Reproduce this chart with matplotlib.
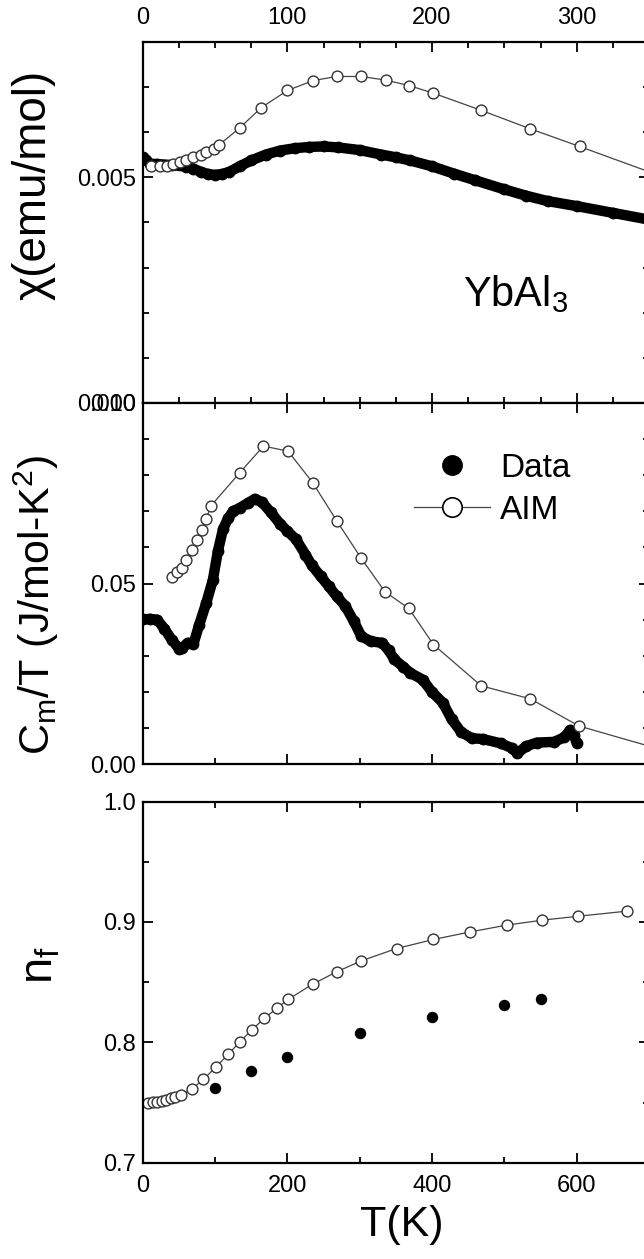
import matplotlib
matplotlib.use('Agg')
import matplotlib.pyplot as plt
from matplotlib.ticker import MultipleLocator, FormatStrFormatter
from matplotlib.lines import Line2D

plt.rcParams['font.family'] = ['Liberation Sans', 'DejaVu Sans']
plt.rcParams['mathtext.default'] = 'regular'

# top panel: susceptibility (x in K, y in 1e-3 emu/mol)
chi_T = [0, 2, 5, 10, 20, 30, 35, 40, 45, 50, 55, 60, 67, 75, 85, 95, 105, 115, 125, 135,
         150, 165, 175, 185, 200, 215, 230, 250, 265, 280, 300, 325, 350]
chi_dat = [5.45, 5.38, 5.30, 5.29, 5.27, 5.23, 5.19, 5.12, 5.07, 5.05, 5.07, 5.12, 5.24, 5.37,
           5.50, 5.59, 5.64, 5.67, 5.68, 5.66, 5.60, 5.50, 5.44, 5.37, 5.24, 5.08, 4.93, 4.73,
           4.59, 4.47, 4.36, 4.21, 4.06]
aim_chi_T = [6, 12, 16.5, 21, 26, 30, 35, 40, 44, 49, 53, 67, 82, 100, 118, 134, 151, 168,
             184, 201, 234, 268, 302, 368]
aim_chi = [5.24, 5.24, 5.25, 5.30, 5.33, 5.37, 5.44, 5.50, 5.55, 5.63, 5.72, 6.09, 6.54, 6.92,
           7.14, 7.23, 7.23, 7.15, 7.03, 6.86, 6.48, 6.07, 5.68, 4.91]

# middle panel: Cm/T
cm_T = [0, 10, 20, 30, 40, 50, 55, 62, 70, 78, 88, 97, 104, 111, 118, 125, 135, 145, 155, 165,
        177, 190, 200, 212, 225, 234, 246, 257, 268, 280, 292, 302, 315, 331, 340, 348, 360,
        370, 387, 400, 415, 427, 440, 455, 470, 495, 510, 518, 530, 545, 569, 583, 591, 596, 600]
cm_dat = [0.0401, 0.0402, 0.0400, 0.0375, 0.0345, 0.0320, 0.0322, 0.0336, 0.0332, 0.0385,
          0.0447, 0.0510, 0.0590, 0.0650, 0.0680, 0.0700, 0.0710, 0.0722, 0.0734, 0.0725,
          0.0697, 0.0665, 0.0645, 0.0622, 0.0580, 0.0550, 0.0520, 0.0493, 0.0465, 0.0438,
          0.0395, 0.0355, 0.0340, 0.0336, 0.0315, 0.0290, 0.0270, 0.0253, 0.0234, 0.0200,
          0.0170, 0.0125, 0.0090, 0.0072, 0.0070, 0.0058, 0.0045, 0.0030, 0.0050, 0.0060,
          0.0062, 0.0075, 0.0095, 0.0080, 0.0060]
aim_cm_T = [41, 48, 54, 60, 68, 75, 82, 88, 94, 134, 167, 201, 235, 268, 302, 335, 368, 402,
            468, 536, 603, 737]
aim_cm = [0.0517, 0.0532, 0.0544, 0.0566, 0.0593, 0.0621, 0.0649, 0.0679, 0.0714, 0.0806,
          0.0880, 0.0866, 0.0779, 0.0674, 0.0570, 0.0477, 0.0431, 0.0331, 0.0217, 0.0181,
          0.0106, 0.0029]

# bottom panel: nf
nf_dat_T = [100, 150, 200, 300, 400, 500, 550]
nf_dat = [0.7617, 0.7761, 0.788, 0.8074, 0.8212, 0.8309, 0.8356]
aim_nf_T = [8, 14.7, 20, 26, 32, 38.7, 44.7, 52.5, 67.7, 83.8, 101, 118, 134.5, 151, 168, 185,
            201, 235, 268, 302, 351, 402, 453, 503, 552, 602, 669]
aim_nf = [0.7493, 0.7501, 0.7506, 0.7515, 0.7523, 0.7534, 0.7548, 0.7562, 0.7609, 0.7692,
          0.7792, 0.790, 0.8004, 0.8104, 0.8198, 0.8281, 0.8356, 0.8483, 0.8585, 0.8676,
          0.8779, 0.8854, 0.8917, 0.8973, 0.9014, 0.9047, 0.9089]

W, H = 644, 1259
fig = plt.figure(figsize=(W / 100, H / 100), dpi=100)

def box(top, bottom, left=142.7, right=649):
    return [left / W, 1 - bottom / H, (right - left) / W, (bottom - top) / H]

ax1 = fig.add_axes(box(41.7, 403))
ax2 = fig.add_axes(box(402.7, 764.3))
ax3 = fig.add_axes(box(801.5, 1162.7))

def style(ax):
    ax.tick_params(which='both', direction='in', top=True, right=True, width=1.3,
                   labelsize=17, pad=5)
    ax.tick_params(which='major', length=7.5)
    ax.tick_params(which='minor', length=4)
    for s in ax.spines.values():
        s.set_linewidth(1.6)

aim_style = dict(color='#444444', lw=0.9, marker='o', ms=7.8, mfc='white', mec='#333333', mew=1.0)
dat_style = dict(color='black', lw=7.5, marker='o', ms=7.5, mfc='black', mec='black',
                 solid_capstyle='round', solid_joinstyle='round')

# top
ax1.plot(chi_T, [v * 1e-3 for v in chi_dat], **dat_style)
ax1.plot(aim_chi_T, [v * 1e-3 for v in aim_chi], **aim_style)
ax1.set_xlim(0, 350)
ax1.set_ylim(0, 0.008)
ax1.xaxis.set_major_locator(MultipleLocator(100))
ax1.xaxis.set_minor_locator(MultipleLocator(25))
ax1.yaxis.set_major_locator(MultipleLocator(0.005))
ax1.yaxis.set_minor_locator(MultipleLocator(0.001))
ax1.yaxis.set_major_formatter(FormatStrFormatter('%.3f'))
style(ax1)
ax1.tick_params(axis='x', labeltop=True, labelbottom=False, pad=9)
ax1.text(0.632, 0.30, 'YbAl$_3$', transform=ax1.transAxes, fontsize=30, ha='left', va='center')

# middle
ax2.plot(cm_T, cm_dat, **dat_style)
ax2.plot(aim_cm_T, aim_cm, **aim_style)
ax2.set_xlim(0, 700)
ax2.set_ylim(0, 0.10)
ax2.xaxis.set_major_locator(MultipleLocator(200))
ax2.xaxis.set_minor_locator(MultipleLocator(100))
ax2.yaxis.set_major_locator(MultipleLocator(0.05))
ax2.yaxis.set_minor_locator(MultipleLocator(0.01))
ax2.yaxis.set_major_formatter(FormatStrFormatter('%.2f'))
style(ax2)
ax2.tick_params(axis='x', labelbottom=False)
handles = [Line2D([], [], ls='none', marker='o', ms=14, mfc='black', mec='black'),
           Line2D([], [], color='#444444', lw=0.9, marker='o', ms=14, mfc='white',
                  mec='black', mew=1.2)]
ax2.legend(handles, ['Data', 'AIM'], loc='upper left', bbox_to_anchor=(0.535, 0.862),
           frameon=False, fontsize=24, handlelength=2.3, handletextpad=0.3,
           labelspacing=0.33, borderaxespad=0, borderpad=0)

# bottom
ax3.plot(aim_nf_T, aim_nf, **aim_style)
ax3.plot(nf_dat_T, nf_dat, ls='none', marker='o', ms=7.2, mfc='black', mec='black')
ax3.set_xlim(0, 700)
ax3.set_ylim(0.7, 1.0)
ax3.xaxis.set_major_locator(MultipleLocator(200))
ax3.xaxis.set_minor_locator(MultipleLocator(100))
ax3.yaxis.set_major_locator(MultipleLocator(0.1))
ax3.yaxis.set_minor_locator(MultipleLocator(0.05))
ax3.yaxis.set_major_formatter(FormatStrFormatter('%.1f'))
style(ax3)
ax3.tick_params(axis='x', pad=9)

fig.text(34 / W, 1 - 185 / H, 'χ(emu/mol)', rotation=90, fontsize=33, ha='center', va='center')
fig.text(36 / W, 1 - 605 / H, 'C$_m$/T (J/mol-K$^2$)', rotation=90, fontsize=31,
         ha='center', va='center')
fig.text(40 / W, 1 - 965 / H, 'n$_f$', rotation=90, fontsize=34, ha='center', va='center')
fig.text(402 / W, 1 - 1225 / H, 'T(K)', fontsize=31, ha='center', va='center')

fig.savefig('out.png', dpi=100)
